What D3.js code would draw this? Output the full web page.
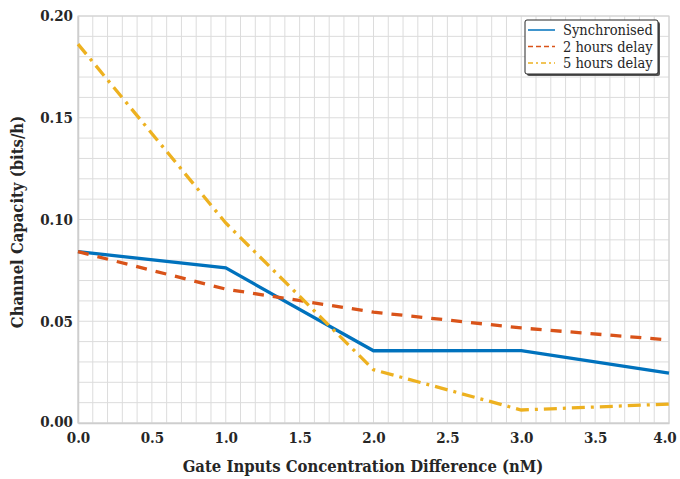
<!DOCTYPE html>
<html>
<head>
<meta charset="utf-8">
<script src="https://cdn.jsdelivr.net/npm/d3@7"></script>
<style>
  body { margin: 0; background: #fff; }
  svg text { fill: #262626; }
</style>
</head>
<body>
<script>
// data
const xValues = [0, 1, 2, 3, 4];
const synchronised = [0.0842, 0.0762, 0.0355, 0.0356, 0.0245];
const delay2h = [0.0842, 0.0658, 0.0545, 0.0467, 0.0408];
const delay5h = [0.1862, 0.0983, 0.0262, 0.0064, 0.0093];
const xTicks = [0, 0.5, 1, 1.5, 2, 2.5, 3, 3.5, 4];
const yTicks = [0, 0.05, 0.10, 0.15, 0.20];

// Liberation Serif is not picked up here, condensed DejaVu Serif is the closest fit to Times
const fontStack = "'DejaVu Serif Condensed', 'DejaVu Serif', serif";

const width = 680, height = 479;
const margin = {left: 78, right: 11, top: 16, bottom: 56};
const xMax = width - margin.left - margin.right;
const yMax = height - margin.top - margin.bottom;

const series = [
  {name: "Synchronised", values: synchronised, color: "#0072BD", dash: null},
  {name: "2 hours delay", values: delay2h, color: "#D95319", dash: "11,9"},
  {name: "5 hours delay", values: delay5h, color: "#EDB120", dash: "13,6,3,6"}
];

const svg = d3.select("body").append("svg")
    .attr("width", width)
    .attr("height", height)
    .style("font-family", fontStack)
    .style("font-stretch", "condensed");

const g = svg.append("g")
    .attr("transform", "translate(" + margin.left + "," + margin.top + ")");

const x = d3.scaleLinear().domain([0, 4]).range([0, xMax]);
const y = d3.scaleLinear().domain([0, 0.2]).range([yMax, 0]);

// grid - minor lines every 0.1 on x and 0.01 on y
g.append("g")
    .selectAll("line")
    .data(d3.range(0, 41).map(d => d / 10))
    .enter().append("line")
    .attr("x1", d => x(d)).attr("x2", d => x(d))
    .attr("y1", 0).attr("y2", yMax)
    .attr("stroke", "#dcdcdc").attr("stroke-width", 1);

g.append("g")
    .selectAll("line")
    .data(d3.range(0, 21).map(d => d / 100))
    .enter().append("line")
    .attr("x1", 0).attr("x2", xMax)
    .attr("y1", d => y(d)).attr("y2", d => y(d))
    .attr("stroke", "#dcdcdc").attr("stroke-width", 1);

// axes
const xAxis = g.append("g")
    .attr("transform", "translate(0," + yMax + ")")
    .call(d3.axisBottom(x).tickValues(xTicks).tickFormat(d3.format(".1f")).tickSize(0).tickPadding(9));

const yAxis = g.append("g")
    .call(d3.axisLeft(y).tickValues(yTicks).tickFormat(d3.format(".2f")).tickSize(0).tickPadding(5));

[xAxis, yAxis].forEach(a => {
  a.attr("font-family", null).attr("font-size", null);
  a.selectAll("text")
      .style("font-family", fontStack)
      .style("font-size", "15px")
      .style("font-weight", "bold");
  a.select(".domain").attr("stroke", "#cccccc").attr("stroke-width", 1.5);
});
// lift the bottom y label a little so it clears the x labels
yAxis.selectAll(".tick text").attr("dy", d => d === 0 ? "0.2em" : "0.32em");
// keep the last x label inside the picture
xAxis.selectAll(".tick text").attr("dx", d => d === 4 ? "-0.3em" : null);

// box
g.append("rect")
    .attr("x", 0).attr("y", 0)
    .attr("width", xMax).attr("height", yMax)
    .attr("fill", "none")
    .attr("stroke", "#d0d0d0");

// lines
const line = d3.line()
    .x((d, i) => x(xValues[i]))
    .y(d => y(d));

series.forEach(s => {
  g.append("path")
      .datum(s.values)
      .attr("d", line)
      .attr("fill", "none")
      .attr("stroke", s.color)
      .attr("stroke-width", 3.3)
      .attr("stroke-dasharray", s.dash);
});

// axis labels
svg.append("text")
    .attr("x", 363)
    .attr("y", 472)
    .attr("text-anchor", "middle")
    .style("font-family", fontStack)
    .style("font-size", "16.5px")
    .style("font-weight", "bold")
    .text("Gate Inputs Concentration Difference (nM)");

svg.append("text")
    .attr("transform", "translate(23,222) rotate(-90)")
    .attr("text-anchor", "middle")
    .style("font-family", fontStack)
    .style("font-size", "16.5px")
    .style("font-weight", "bold")
    .text("Channel Capacity (bits/h)");

// legend
const legend = svg.append("g").attr("transform", "translate(525,20)");

legend.append("rect")
    .attr("x", 2).attr("y", 2)
    .attr("width", 133).attr("height", 54)
    .attr("rx", 2)
    .attr("fill", "#555");

legend.append("rect")
    .attr("width", 133).attr("height", 54)
    .attr("rx", 2)
    .attr("fill", "#fff")
    .attr("stroke", "#262626")
    .attr("stroke-width", 1);

series.forEach((s, i) => {
  const row = legend.append("g").attr("transform", "translate(0," + (10 + i * 16.5) + ")");
  row.append("line")
      .attr("x1", 3).attr("x2", 30)
      .attr("y1", 0).attr("y2", 0)
      .attr("stroke", s.color)
      .attr("stroke-width", 1.5)
      .attr("stroke-dasharray", s.dash ? (i === 1 ? "5,3" : "5,3,2,3") : null);
  row.append("text")
      .attr("x", 38).attr("y", 5)
      .style("font-family", fontStack)
      .style("font-size", "14.5px")
      .text(s.name);
});
</script>
</body>
</html>
